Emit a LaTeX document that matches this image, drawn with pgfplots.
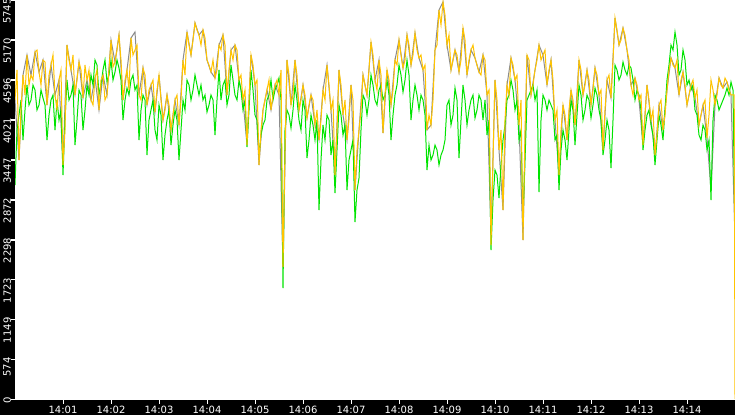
\documentclass[border=0pt]{standalone}
\usepackage{fontspec}
\setmainfont{DejaVu Sans}
\usepackage{pgfplots}
\pgfplotsset{compat=1.18}
\usetikzlibrary{backgrounds}
\definecolor{yel}{RGB}{255,196,0}
\definecolor{grn}{RGB}{0,228,0}
\definecolor{gry}{RGB}{140,140,140}

\begin{document}
\begin{tikzpicture}
% 1px = 0.75pt; plot area 720x399 px, black band 15px left, 16px bottom
\begin{axis}[
  scale only axis, width=540pt, height=299.25pt,
  xmin=0, xmax=900, ymin=0, ymax=5745,
  axis line style={white, line width=0.1pt},
  axis background/.style={fill=white},
  tick pos=left, tick align=outside, major tick length=3.3pt,
  every tick/.style={white, line width=0.75pt},
  ticklabel style={white, font=\fontsize{7.5}{8}\selectfont},
  xtick={60,120,...,840},
  xticklabels={14:01,14:02,14:03,14:04,14:05,14:06,14:07,14:08,14:09,14:10,14:11,14:12,14:13,14:14},
  xticklabel style={inner ysep=0.5pt, yshift=-1.6pt},
  ytick={0,574.5,1149,1723.5,2298,2872.5,3447,4021.5,4596,5170.5,5745},
  yticklabels={0,574,1149,1723,2298,2872,3447,4021,4596,5170,5745},
  yticklabel style={rotate=90, anchor=east, inner xsep=-1.4pt, inner ysep=0pt},
  yticklabel shift=2.6pt,
  every axis plot/.append style={line width=0.75pt},
]
\coordinate (LL) at (rel axis cs:0,0);
\coordinate (UR) at (rel axis cs:1,1);

% gray series
\addplot[gry] coordinates {
(0,4305)(5,3441)(10,4665)(15,4953)(20,4665)(25,4996)(30,4708)(35,4881)(40,4233)(45,4809)
(50,4377)(55,4593)(60,3369)(65,5097)(70,4737)(75,4377)(80,4852)(85,4334)(90,4593)(95,4305)
(100,4622)(105,4161)(110,4665)(115,4377)(120,5169)(125,4852)(130,5241)(135,4305)(140,4737)(145,5198)
(150,5284)(155,4377)(160,4766)(165,4233)(170,4521)(175,4132)(180,4665)(185,4017)(190,4377)(195,3873)
(200,4305)(205,3945)(210,4881)(215,5284)(220,4953)(225,5414)(230,5241)(235,5313)(240,4881)(245,4708)
(250,4622)(255,5097)(260,5241)(265,4377)(270,5025)(275,5097)(280,4593)(285,4305)(290,3657)(295,4953)
(300,4521)(305,3369)(310,4161)(315,4449)(320,4161)(325,4521)(330,4377)(335,1900)(340,4881)(345,4233)
(350,4881)(355,4161)(360,4521)(365,4046)(370,4377)(375,3945)(380,3729)(385,4449)(390,4809)(395,4161)
(400,3225)(405,4737)(410,4089)(415,3729)(420,4521)(425,3009)(430,3873)(435,4665)(440,4377)(445,5140)
(450,4593)(455,4881)(460,3830)(465,4737)(470,4233)(475,4881)(480,5169)(485,4766)(490,5241)(495,4809)
(500,5270)(505,4910)(510,4737)(515,3873)(520,3945)(525,5025)(530,5601)(535,5716)(540,5097)(545,4737)
(550,5025)(555,4708)(560,5342)(565,4665)(570,5025)(575,4910)(580,4708)(585,4953)(590,4377)(595,2361)
(600,4593)(605,3585)(610,2721)(615,4521)(620,4910)(625,4593)(630,3945)(635,2289)(640,4953)(645,4377)
(650,4737)(655,5097)(660,4953)(665,4521)(670,4881)(675,4017)(680,3225)(685,4233)(690,3729)(695,4449)
(700,3945)(705,4881)(710,4377)(715,4737)(720,4233)(725,4766)(730,4377)(735,3585)(740,4593)(745,4334)
(750,5486)(755,5097)(760,5342)(765,5025)(770,4521)(775,4622)(780,4305)(785,3657)(790,4521)(795,4017)
(800,3513)(805,4233)(810,3873)(815,4449)(820,4910)(825,4766)(830,4377)(835,4708)(840,4233)(845,4521)
(850,4334)(855,3945)(860,4233)(865,3758)(870,3009)(875,4233)(880,4622)(885,4478)(890,4564)(895,4377)
(900,2289)
};

% green series
\addplot[grn] coordinates {
(0,3081)(2.5,3873)(5,4089)(7.5,4305)(10,3729)(12.5,4161)(15,4521)(17.5,4233)(20,4305)(22.5,4521)
(25,4449)(27.5,4161)(30,4233)(32.5,4449)(35,4334)(37.5,4233)(40,3729)(42.5,4089)(45,4305)(47.5,4377)
(50,3873)(52.5,4305)(55,4017)(57.5,4161)(60,3225)(62.5,4017)(65,4593)(67.5,4305)(70,4377)(72.5,4521)
(75,3657)(77.5,4017)(80,4449)(82.5,4377)(85,3873)(87.5,4161)(90,4521)(92.5,4377)(95,4665)(97.5,4521)
(100,4881)(102.5,4809)(105,4377)(107.5,4521)(110,4737)(112.5,4881)(115,4564)(117.5,4665)(120,4881)(122.5,4593)
(125,4708)(127.5,4881)(130,4766)(132.5,4593)(135,4017)(137.5,4305)(140,4478)(142.5,4377)(145,4593)(147.5,4665)
(150,4449)(152.5,4521)(155,3729)(157.5,4161)(160,4377)(162.5,4305)(165,3513)(167.5,4017)(170,4161)(172.5,4305)
(175,3873)(177.5,3729)(180,4233)(182.5,4089)(185,3441)(187.5,3801)(190,4017)(192.5,4161)(195,3657)(197.5,3945)
(200,4161)(202.5,4017)(205,3441)(207.5,3873)(210,4305)(212.5,4161)(215,4593)(217.5,4521)(220,4305)(222.5,4449)
(225,4665)(227.5,4521)(230,4377)(232.5,4521)(235,4305)(237.5,4377)(240,4132)(242.5,4233)(245,4377)(247.5,4305)
(250,3801)(252.5,4305)(255,4737)(257.5,4305)(260,4521)(262.5,4593)(265,4233)(267.5,4377)(270,4809)(272.5,4593)
(275,4377)(277.5,4305)(280,4593)(282.5,4449)(285,4161)(287.5,4305)(290,3628)(292.5,4161)(295,4737)(297.5,4449)
(300,4089)(302.5,4017)(305,3513)(307.5,3801)(310,3945)(312.5,4017)(315,4305)(317.5,4377)(320,4593)(322.5,4305)
(325,4449)(327.5,4521)(330,4622)(332.5,4305)(335,1598)(337.5,3873)(340,4161)(342.5,4089)(345,3902)(347.5,4161)
(350,4521)(352.5,4305)(355,4017)(357.5,3873)(360,4305)(362.5,4161)(365,3470)(367.5,3729)(370,4089)(372.5,3945)
(375,3729)(377.5,4017)(380,2721)(382.5,3441)(385,3945)(387.5,3729)(390,4089)(392.5,4017)(395,3513)(397.5,3729)
(400,2966)(402.5,3585)(405,4233)(407.5,4089)(410,3801)(412.5,3945)(415,3009)(417.5,3441)(420,3585)(422.5,3729)
(425,2548)(427.5,3009)(430,3182)(432.5,3873)(435,4377)(437.5,4305)(440,4089)(442.5,4305)(445,4665)(447.5,4521)
(450,4305)(452.5,4233)(455,4449)(457.5,4521)(460,4305)(462.5,4377)(465,4593)(467.5,4377)(470,3729)(472.5,4089)
(475,4377)(477.5,4521)(480,4809)(482.5,4665)(485,4420)(487.5,4593)(490,4881)(492.5,4665)(495,4017)(497.5,4305)
(500,4521)(502.5,4377)(505,4161)(507.5,4377)(510,4305)(512.5,4089)(515,3297)(517.5,3657)(520,3441)(522.5,3513)
(525,3657)(527.5,3585)(530,3369)(532.5,3513)(535,3585)(537.5,3729)(540,4233)(542.5,4305)(545,3945)(547.5,4089)
(550,4478)(552.5,4305)(555,3470)(557.5,4017)(560,4521)(562.5,4305)(565,3945)(567.5,4161)(570,4305)(572.5,4377)
(575,4046)(577.5,4161)(580,4377)(582.5,4305)(585,4017)(587.5,4305)(590,3801)(592.5,4017)(595,2145)(597.5,2865)
(600,3297)(602.5,3225)(605,2894)(607.5,3369)(610,3729)(612.5,3945)(615,4305)(617.5,4377)(620,4593)(622.5,4449)
(625,4161)(627.5,4305)(630,3729)(632.5,3873)(635,2577)(637.5,3441)(640,4305)(642.5,4377)(645,4449)(647.5,4521)
(650,4305)(652.5,4449)(655,2980)(657.5,4017)(660,4377)(662.5,4305)(665,4161)(667.5,4305)(670,4233)(672.5,4161)
(675,3729)(677.5,3801)(680,3009)(682.5,3585)(685,3873)(687.5,3729)(690,3441)(692.5,3873)(695,4305)(697.5,4161)
(700,3657)(702.5,4089)(705,4521)(707.5,4377)(710,4017)(712.5,4161)(715,4377)(717.5,4305)(720,4046)(722.5,4233)
(725,4478)(727.5,4377)(730,4161)(732.5,4017)(735,3513)(737.5,3729)(740,4017)(742.5,3873)(745,3326)(747.5,4017)
(750,4809)(752.5,4737)(755,4593)(757.5,4665)(760,4852)(762.5,4737)(765,4665)(767.5,4809)(770,4766)(772.5,4593)
(775,4305)(777.5,4449)(780,4377)(782.5,4161)(785,3585)(787.5,3873)(790,4089)(792.5,4161)(795,3945)(797.5,3801)
(800,3369)(802.5,3729)(805,4089)(807.5,3945)(810,3729)(812.5,4161)(815,4593)(817.5,4809)(820,5097)(822.5,5025)
(825,5284)(827.5,5097)(830,4665)(832.5,4737)(835,5025)(837.5,4881)(840,4521)(842.5,4593)(845,4449)(847.5,4521)
(850,4161)(852.5,4089)(855,3801)(857.5,3729)(860,3945)(862.5,3873)(865,3585)(867.5,3729)(870,2865)(872.5,4017)
(875,4377)(877.5,4305)(880,4161)(882.5,4233)(885,4305)(887.5,4377)(890,4478)(892.5,4377)(895,4564)(897.5,4449)
(900,2260)
};

% yellow series
\addplot[yel] coordinates {
(0,4305)(2.5,4737)(5,3441)(7.5,4161)(10,4665)(12.5,4377)(15,4953)(17.5,4521)(20,4665)(22.5,4593)
(25,4996)(27.5,5025)(30,4708)(32.5,4521)(35,4881)(37.5,4852)(40,4233)(42.5,4665)(45,4809)(47.5,4953)
(50,4377)(52.5,4161)(55,4593)(57.5,4737)(60,3369)(62.5,3873)(65,5097)(67.5,4881)(70,4737)(72.5,4953)
(75,4377)(77.5,4593)(80,4852)(82.5,4737)(85,4334)(87.5,4809)(90,4593)(92.5,4737)(95,4305)(97.5,4233)
(100,4622)(102.5,4737)(105,4161)(107.5,4593)(110,4665)(112.5,4305)(115,4377)(117.5,4737)(120,5169)(122.5,4780)
(125,4852)(127.5,5025)(130,5241)(132.5,4881)(135,4305)(137.5,4593)(140,4737)(142.5,4449)(145,5198)(147.5,4953)
(150,5025)(152.5,5097)(155,4377)(157.5,4305)(160,4766)(162.5,4665)(165,4233)(167.5,4449)(170,4521)(172.5,4593)
(175,4132)(177.5,4449)(180,4665)(182.5,4305)(185,4017)(187.5,4161)(190,4377)(192.5,4233)(195,3873)(197.5,4089)
(200,4305)(202.5,4377)(205,3945)(207.5,4305)(210,4881)(212.5,4665)(215,5284)(217.5,5097)(220,4953)(222.5,5169)
(225,5414)(227.5,5313)(230,5241)(232.5,5097)(235,5313)(237.5,5198)(240,4881)(242.5,4809)(245,4708)(247.5,4881)
(250,4622)(252.5,4737)(255,5097)(257.5,5025)(260,5241)(262.5,5097)(265,4377)(267.5,4737)(270,5025)(272.5,4881)
(275,5097)(277.5,5025)(280,4593)(282.5,4665)(285,4305)(287.5,4449)(290,3657)(292.5,4305)(295,4953)(297.5,4809)
(300,4521)(302.5,4593)(305,3369)(307.5,3873)(310,4161)(312.5,4305)(315,4449)(317.5,4593)(320,4161)(322.5,4377)
(325,4521)(327.5,4593)(330,4377)(332.5,4737)(335,1900)(337.5,3585)(340,4881)(342.5,4665)(345,4233)(347.5,4377)
(350,4881)(352.5,4665)(355,4161)(357.5,4305)(360,4521)(362.5,4377)(365,4046)(367.5,4233)(370,4377)(372.5,4305)
(375,3945)(377.5,4161)(380,3729)(382.5,4017)(385,4449)(387.5,4305)(390,4809)(392.5,4521)(395,4161)(397.5,4305)
(400,3225)(402.5,3873)(405,4737)(407.5,4521)(410,4089)(412.5,4305)(415,3729)(417.5,4017)(420,4521)(422.5,4305)
(425,3009)(427.5,3585)(430,3873)(432.5,4161)(435,4665)(437.5,4521)(440,4377)(442.5,4737)(445,5140)(447.5,4953)
(450,4593)(452.5,4449)(455,4881)(457.5,4665)(460,3830)(462.5,4377)(465,4737)(467.5,4593)(470,4233)(472.5,4449)
(475,4881)(477.5,4809)(480,5169)(482.5,4953)(485,4766)(487.5,4881)(490,5241)(492.5,5097)(495,4809)(497.5,4953)
(500,5270)(502.5,5025)(505,4910)(507.5,4953)(510,4737)(512.5,4809)(515,3873)(517.5,4089)(520,3945)(522.5,4305)
(525,5025)(527.5,5097)(530,5601)(532.5,5385)(535,5716)(537.5,5529)(540,5097)(542.5,5241)(545,4737)(547.5,4881)
(550,5025)(552.5,4953)(555,4708)(557.5,4881)(560,5342)(562.5,5169)(565,4665)(567.5,4881)(570,5025)(572.5,5097)
(575,4910)(577.5,4809)(580,4708)(582.5,4665)(585,4953)(587.5,4881)(590,4377)(592.5,4449)(595,2217)(597.5,3441)
(600,4593)(602.5,4305)(605,3585)(607.5,3873)(610,2721)(612.5,4017)(615,4521)(617.5,4377)(620,4910)(622.5,4809)
(625,4593)(627.5,4665)(630,3945)(632.5,4305)(635,2289)(637.5,3873)(640,4953)(642.5,4881)(645,4377)(647.5,4521)
(650,4737)(652.5,4881)(655,5097)(657.5,4881)(660,4953)(662.5,5025)(665,4521)(667.5,4737)(670,4881)(672.5,4593)
(675,4017)(677.5,4161)(680,3225)(682.5,3873)(685,4233)(687.5,4089)(690,3729)(692.5,4161)(695,4449)(697.5,4305)
(700,3945)(702.5,4305)(705,4881)(707.5,4737)(710,4377)(712.5,4521)(715,4737)(717.5,4593)(720,4233)(722.5,4449)
(725,4766)(727.5,4665)(730,4377)(732.5,4449)(735,3585)(737.5,4161)(740,4593)(742.5,4665)(745,4334)(747.5,4881)
(750,5486)(752.5,5313)(755,5097)(757.5,5169)(760,5342)(762.5,5241)(765,5025)(767.5,4881)(770,4521)(772.5,4377)
(775,4622)(777.5,4521)(780,4305)(782.5,4377)(785,3657)(787.5,4089)(790,4521)(792.5,4305)(795,4017)(797.5,4161)
(800,3513)(802.5,3801)(805,4233)(807.5,4305)(810,3873)(812.5,4089)(815,4449)(817.5,4737)(820,4910)(822.5,4809)
(825,4766)(827.5,4881)(830,4377)(832.5,4593)(835,4708)(837.5,4521)(840,4233)(842.5,4377)(845,4521)(847.5,4593)
(850,4334)(852.5,4449)(855,3945)(857.5,4089)(860,4233)(862.5,4305)(865,3758)(867.5,4089)(870,4593)(872.5,4449)
(875,4233)(877.5,4377)(880,4622)(882.5,4521)(885,4478)(887.5,4622)(890,4564)(892.5,4449)(895,4377)(899,4380)
(900,0)
};
\end{axis}
\begin{scope}[on background layer]
  \fill[black] ([xshift=-11.25pt,yshift=-12pt]LL) rectangle (UR);
\end{scope}
% white tick marks in the black bands, set on pixel centres
\foreach \i in {1,...,14}
  \draw[white, line width=1pt] ([xshift=\i*36pt+0.375pt]LL) -- ++(0,-3.9pt);
\foreach \i in {0,...,10}
  \draw[white, line width=1pt] ([yshift=\i*29.925pt-0.375pt]LL) -- ++(-3.2pt,0);
\pgfresetboundingbox
\path ([xshift=-11.25pt,yshift=-12pt]LL) rectangle (UR);
\end{tikzpicture}
\end{document}
